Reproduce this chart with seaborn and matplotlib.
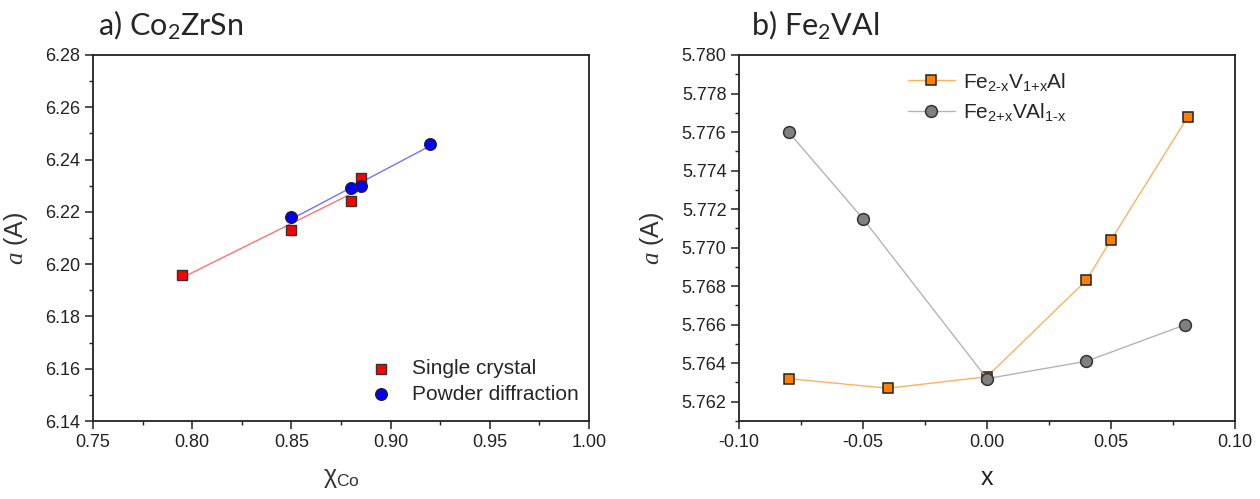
import numpy as np
import pandas as pd
import seaborn as sns
import matplotlib
matplotlib.use("Agg")
import matplotlib.pyplot as plt
from matplotlib.ticker import MultipleLocator, FormatStrFormatter

# ---- data: Co2ZrSn lattice parameter vs Co fraction ----
single_x = [0.795, 0.85, 0.88, 0.885]
single_a = [6.196, 6.213, 6.224, 6.233]
powder_x = [0.85, 0.88, 0.885, 0.92]
powder_a = [6.218, 6.229, 6.230, 6.246]

# ---- data: Fe2VAl lattice parameter vs off-stoichiometry x ----
fev_x = [-0.08, -0.04, 0.0, 0.04, 0.05, 0.081]
fev_a = [5.7632, 5.7627, 5.7633, 5.7683, 5.7704, 5.7768]
feal_x = [-0.08, -0.05, 0.0, 0.04, 0.08]
feal_a = [5.7760, 5.7715, 5.7632, 5.7641, 5.7660]

sns.set_style("white")
plt.rcParams["font.family"] = ["Liberation Sans", "DejaVu Sans"]
plt.rcParams["mathtext.fontset"] = "custom"
plt.rcParams["mathtext.rm"] = "Liberation Sans"
plt.rcParams["mathtext.it"] = "Liberation Serif:italic"
plt.rcParams["mathtext.bf"] = "Liberation Sans:bold"

fig = plt.figure(figsize=(12.6, 4.99), dpi=100)
ax1 = fig.add_axes([0.0738, 0.1563, 0.3937, 0.7335])
ax2 = fig.add_axes([0.5865, 0.1563, 0.3937, 0.7335])

tick_fs = 13

def style_axes(ax):
    for s in ax.spines.values():
        s.set_visible(True)
        s.set_color("#222222")
        s.set_linewidth(1.3)
    ax.tick_params(axis="both", which="major", direction="out", length=5.5, width=1.1,
                   labelsize=tick_fs, bottom=True, left=True, top=False, right=False,
                   colors="#222222", pad=3.5)
    ax.tick_params(axis="both", which="minor", direction="out", length=3.2, width=1.0,
                   bottom=True, left=True, top=False, right=False, colors="#222222")

# ---- panel a ----
df_s = pd.DataFrame({"x": single_x, "a": single_a})
df_p = pd.DataFrame({"x": powder_x, "a": powder_a})
sns.regplot(data=df_s, x="x", y="a", ax=ax1, ci=None, scatter=False, truncate=True,
            line_kws=dict(color="#ff7272", lw=1.0))
sns.regplot(data=df_p, x="x", y="a", ax=ax1, ci=None, scatter=False, truncate=True,
            line_kws=dict(color="#7272ff", lw=1.0))
sns.scatterplot(data=df_s, x="x", y="a", ax=ax1, marker="s", s=50, color="#ff0000",
                edgecolor="#333333", linewidth=1.0, label="Single crystal", zorder=3)
sns.scatterplot(data=df_p, x="x", y="a", ax=ax1, marker="o", s=70, color="#0000ff",
                edgecolor="#222222", linewidth=1.0, label="Powder diffraction", zorder=3)
ax1.set_xlim(0.75, 1.00)
ax1.set_ylim(6.14, 6.28)
ax1.xaxis.set_major_locator(MultipleLocator(0.05))
ax1.xaxis.set_minor_locator(MultipleLocator(0.025))
ax1.yaxis.set_major_locator(MultipleLocator(0.02))
ax1.yaxis.set_minor_locator(MultipleLocator(0.01))
ax1.xaxis.set_major_formatter(FormatStrFormatter("%.2f"))
ax1.yaxis.set_major_formatter(FormatStrFormatter("%.2f"))
ax1.set_xlabel("χ$_{\\mathregular{Co}}$", fontsize=18, labelpad=11, color="#333333")
ax1.set_ylabel(r"$a$ (A)", fontsize=18, labelpad=11, color="#333333")
style_axes(ax1)
ax1.legend(loc="lower left", bbox_to_anchor=(0.53, 0.025), frameon=False, fontsize=15,
           handlelength=1.6, handletextpad=0.7, labelspacing=0.3, borderaxespad=0.0)
fig.text(0.0778, 1 - 35 / 499, r"a) Co$_{\mathregular{2}}$ZrSn", fontsize=22,
         family=["Lato", "DejaVu Sans"], va="baseline", ha="left")

# ---- panel b ----
df_v = pd.DataFrame({"x": fev_x, "a": fev_a})
df_al = pd.DataFrame({"x": feal_x, "a": feal_a})
sns.lineplot(data=df_v, x="x", y="a", ax=ax2, sort=False, color="#ffb060", lw=1.0,
             marker="s", markersize=7.5, markerfacecolor="#ff8000",
             markeredgecolor="#222222", markeredgewidth=1.1,
             label=r"Fe$_{\text{2-x}}$V$_{\text{1+x}}$Al")
sns.lineplot(data=df_al, x="x", y="a", ax=ax2, sort=False, color="#b4b4b4", lw=1.0,
             marker="o", markersize=8.5, markerfacecolor="#808080",
             markeredgecolor="#333333", markeredgewidth=1.1,
             label=r"Fe$_{\text{2+x}}$VAl$_{\text{1-x}}$")
ax2.set_xlim(-0.10, 0.10)
ax2.set_ylim(5.761, 5.780)
ax2.xaxis.set_major_locator(MultipleLocator(0.05))
ax2.xaxis.set_minor_locator(MultipleLocator(0.025))
ax2.yaxis.set_major_locator(MultipleLocator(0.002))
ax2.yaxis.set_minor_locator(MultipleLocator(0.001))
ax2.xaxis.set_major_formatter(FormatStrFormatter("%.2f"))
ax2.yaxis.set_major_formatter(FormatStrFormatter("%.3f"))
ax2.set_xlabel("x", fontsize=18, labelpad=11, color="#222222")
ax2.set_ylabel(r"$a$ (A)", fontsize=18, labelpad=11, color="#333333")
style_axes(ax2)
ax2.legend(loc="upper center", bbox_to_anchor=(0.5, 1.0), frameon=False, fontsize=15,
           handlelength=2.3, handletextpad=0.35, labelspacing=0.4, borderaxespad=0.35)
fig.text(0.596, 1 - 35 / 499, r"b) Fe$_{\mathregular{2}}$VAl", fontsize=22,
         family=["Lato", "DejaVu Sans"], va="baseline", ha="left")

fig.savefig("out.png", dpi=100, facecolor="white")
